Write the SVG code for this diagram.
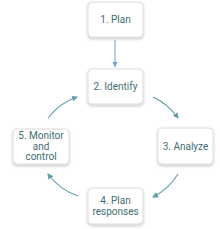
<svg xmlns="http://www.w3.org/2000/svg" width="220" height="229" viewBox="0 0 220 229">
<style>
.box{fill:#ffffff;stroke:#dcdcdc;stroke-width:1;filter:url(#sh)}
.t{font-family:Roboto,"Liberation Sans",sans-serif;font-size:10px;fill:#3e6e72;text-anchor:middle}
.arc{fill:none;stroke:#5f9ea9;stroke-width:1.1}
</style>
<defs>
<filter id="sh" x="-30%" y="-30%" width="160%" height="160%">
<feDropShadow dx="0" dy="1.5" stdDeviation="1.5" flood-color="#000" flood-opacity="0.22"/>
</filter>
<marker id="ah" markerWidth="6" markerHeight="6" refX="5" refY="3" orient="auto" markerUnits="userSpaceOnUse">
<path d="M0,0 L6,3 L0,6 Z" fill="#5f9ea9"/>
</marker>
<marker id="ab" markerWidth="6" markerHeight="6" refX="5" refY="3" orient="auto" markerUnits="userSpaceOnUse">
<path d="M0,0.5 L5,3 L0,5.5 Z" fill="#6b9fd8"/>
</marker>
</defs>
<g id="connectors">
<line x1="115" y1="40" x2="115" y2="67" stroke="#6b9fd8" stroke-width="1" marker-end="url(#ab)"/>
<path class="arc" d="M153,97 A62,62 0 0,1 178,118" marker-end="url(#ah)"/>
<path class="arc" d="M178,174 A62,62 0 0,1 153,197" marker-end="url(#ah)"/>
<path class="arc" d="M78,196 A62,62 0 0,1 48,174" marker-end="url(#ah)"/>
<path class="arc" d="M48,118 A62,62 0 0,1 77,97" marker-end="url(#ah)"/>
</g>
<g id="n1"><rect class="box" x="88" y="2" width="55" height="35" rx="4"/><text class="t" x="115.5" y="23">1. Plan</text></g>
<g id="n2"><rect class="box" x="88" y="69" width="55" height="35" rx="4"/><text class="t" x="115.5" y="90">2. Identify</text></g>
<g id="n3"><rect class="box" x="158" y="128" width="55" height="36" rx="4"/><text class="t" x="185.5" y="150">3. Analyze</text></g>
<g id="n4"><rect class="box" x="88" y="188" width="55" height="36" rx="4"/><text class="t" x="115.5" y="203.5">4. Plan</text><text class="t" x="115.5" y="215">responses</text></g>
<g id="n5"><rect class="box" x="13" y="129" width="56" height="35" rx="4"/><text class="t" x="41" y="138.5">5. Monitor</text><text class="t" x="41" y="149.5">and</text><text class="t" x="41" y="160">control</text></g>
</svg>
